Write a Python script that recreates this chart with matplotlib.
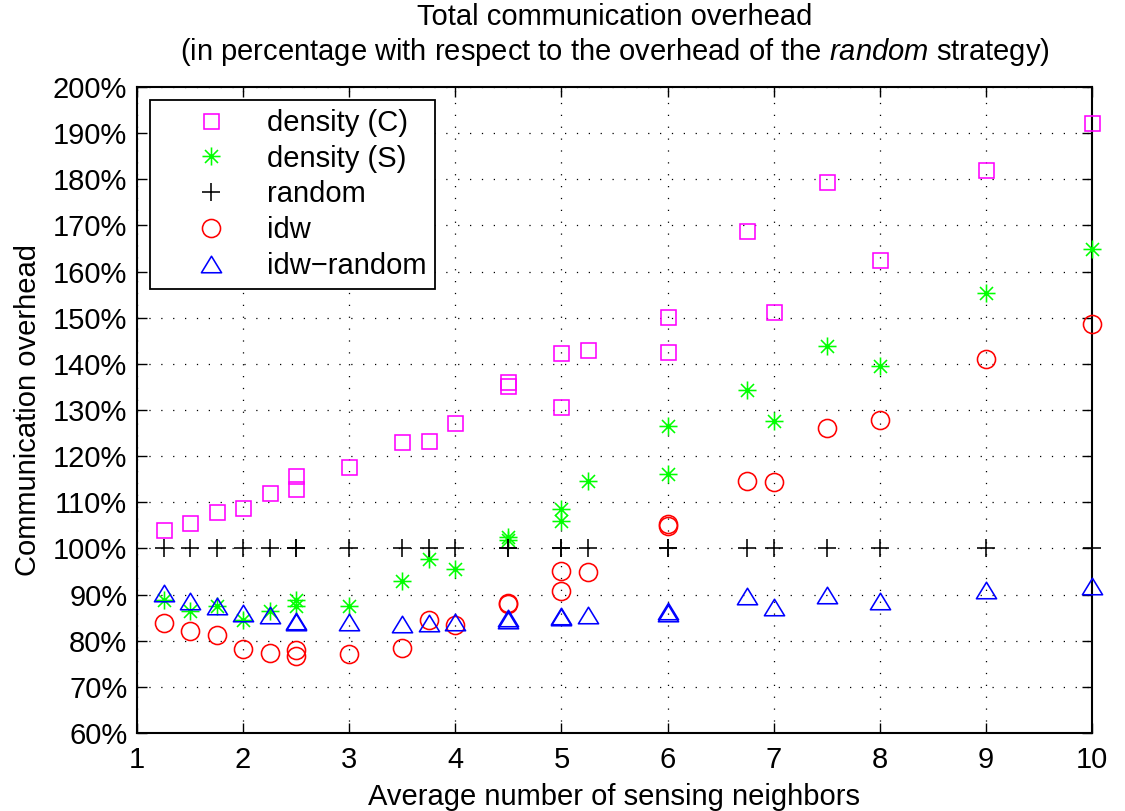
import matplotlib
matplotlib.use("Agg")
import matplotlib.pyplot as plt
from matplotlib.path import Path

plt.rcParams['font.family'] = ['Liberation Sans', 'DejaVu Sans']
plt.rcParams['mathtext.fontset'] = 'custom'
plt.rcParams['mathtext.rm'] = 'Liberation Sans'
plt.rcParams['mathtext.it'] = 'Liberation Sans:italic'

# Average number of sensing neighbors for each scenario
neighbors = [1.25, 1.5, 1.75, 2, 2.25, 2.5, 2.5, 3, 3.5, 3.75, 4, 4.5, 4.5,
             5, 5, 5.25, 6, 6, 6.75, 7, 7.5, 8, 9, 10]

# Communication overhead (%) relative to the random strategy
density_c = [104.1, 105.6, 108.0, 108.8, 112.0, 115.8, 112.9, 117.6, 123.0, 123.2,
             127.2, 136.0, 135.2, 142.3, 130.7, 143.0, 150.2, 142.6, 168.9, 151.2,
             179.4, 162.5, 182.1, 192.1]
density_s = [88.9, 86.4, 87.5, 84.4, 86.4, 88.9, 87.6, 87.6, 92.9, 97.8,
             95.6, 102.5, 101.8, 108.6, 106.0, 114.6, 126.5, 116.2, 134.4, 127.6,
             143.9, 139.5, 155.3, 165.0]
random_s = [100.0] * len(neighbors)
idw = [83.8, 82.2, 81.3, 78.3, 77.3, 78.0, 76.6, 77.2, 78.5, 84.5,
       83.3, 88.2, 88.0, 95.1, 90.8, 95.0, 105.2, 104.8, 114.7, 114.5,
       126.0, 127.8, 141.0, 148.6]
idw_random = [90.3, 88.6, 87.6, 86.0, 85.6, 84.3, 84.0, 84.0, 83.7, 83.9,
              84.0, 85.0, 84.5, 85.4, 85.1, 85.5, 86.5, 85.9, 89.7, 87.4,
              89.8, 88.5, 90.9, 91.8]

series_labels = ['density (C)', 'density (S)', 'random', 'idw', 'idw\u2212random']

x_ticks = list(range(1, 11))
y_ticks = list(range(60, 201, 10))

# Asterisk made of four strokes and a wide, flat triangle
star = Path([(-1, 0), (1, 0), (0, -1), (0, 1),
             (-0.72, -0.72), (0.72, 0.72), (-0.72, 0.72), (0.72, -0.72)],
            [Path.MOVETO, Path.LINETO] * 4)
tri = Path([(-1, -0.82), (1, -0.82), (0, 0.82), (-1, -0.82)],
           [Path.MOVETO, Path.LINETO, Path.LINETO, Path.CLOSEPOLY])

fig = plt.figure(figsize=(11.25, 8.11), dpi=100)
ax = fig.add_axes([137 / 1125, 1 - 733 / 811, (1092 - 137) / 1125, (733 - 87) / 811])

mew = 1.15
common = dict(ls='none', mew=mew, clip_on=False, zorder=3)
ax.plot(neighbors, density_c, marker='s', ms=10.8, mfc='none',
        mec=(1, 0, 1), label=series_labels[0], **common)
ax.plot(neighbors, density_s, marker=star, ms=13, mfc='none',
        mec=(0, 1, 0), label=series_labels[1], **common)
ax.plot(neighbors, random_s, marker='+', ms=13.5, mec='black',
        label=series_labels[2], **common)
ax.plot(neighbors, idw, marker='o', ms=13, mfc='none',
        mec=(1, 0, 0), label=series_labels[3], **common)
ax.plot(neighbors, idw_random, marker=tri, ms=14.5, mfc='none',
        mec=(0, 0, 1), label=series_labels[4], **common)

ax.set_xlim(1, 10)
ax.set_ylim(60, 200)
ax.set_xticks(x_ticks)
ax.set_xticklabels([str(v) for v in x_ticks])
ax.set_yticks(y_ticks)
ax.set_yticklabels([f'{v}%' for v in y_ticks])

fs = 21
ax.tick_params(direction='in', length=7, width=1.0, top=True, right=True,
               labelsize=fs, colors='black')
ax.tick_params(axis='y', pad=7)
ax.tick_params(axis='x', pad=9)
for sp in ax.spines.values():
    sp.set_linewidth(1.5)
    sp.set_color('black')

ax.grid(True, color='black', linewidth=0.9, linestyle=(0, (1.0, 8.5)))
ax.set_axisbelow(True)

ax.set_xlabel('Average number of sensing neighbors', fontsize=fs, labelpad=7)
ax.set_ylabel('Communication overhead', fontsize=fs, labelpad=8)

ax.text(0.5, 1 + (87 - 17) / 646, 'Total communication overhead', transform=ax.transAxes,
        ha='center', va='center', fontsize=fs)
ax.text(0.5, 1 + (87 - 52) / 646,
        r'(in percentage with respect to the overhead of the $random$ strategy)',
        transform=ax.transAxes, ha='center', va='center', fontsize=fs)

leg = ax.legend(loc='upper left', bbox_to_anchor=((150 - 137) / 955, (733 - 100) / 646),
                borderaxespad=0, fontsize=fs, frameon=True, fancybox=False,
                handlelength=3.6, handletextpad=0.1, labelspacing=0.27,
                borderpad=0.3, numpoints=1)
leg.get_frame().set_edgecolor('black')
leg.get_frame().set_linewidth(1.3)
leg.get_frame().set_alpha(1)

fig.savefig('out.png', dpi=100, facecolor='white')
